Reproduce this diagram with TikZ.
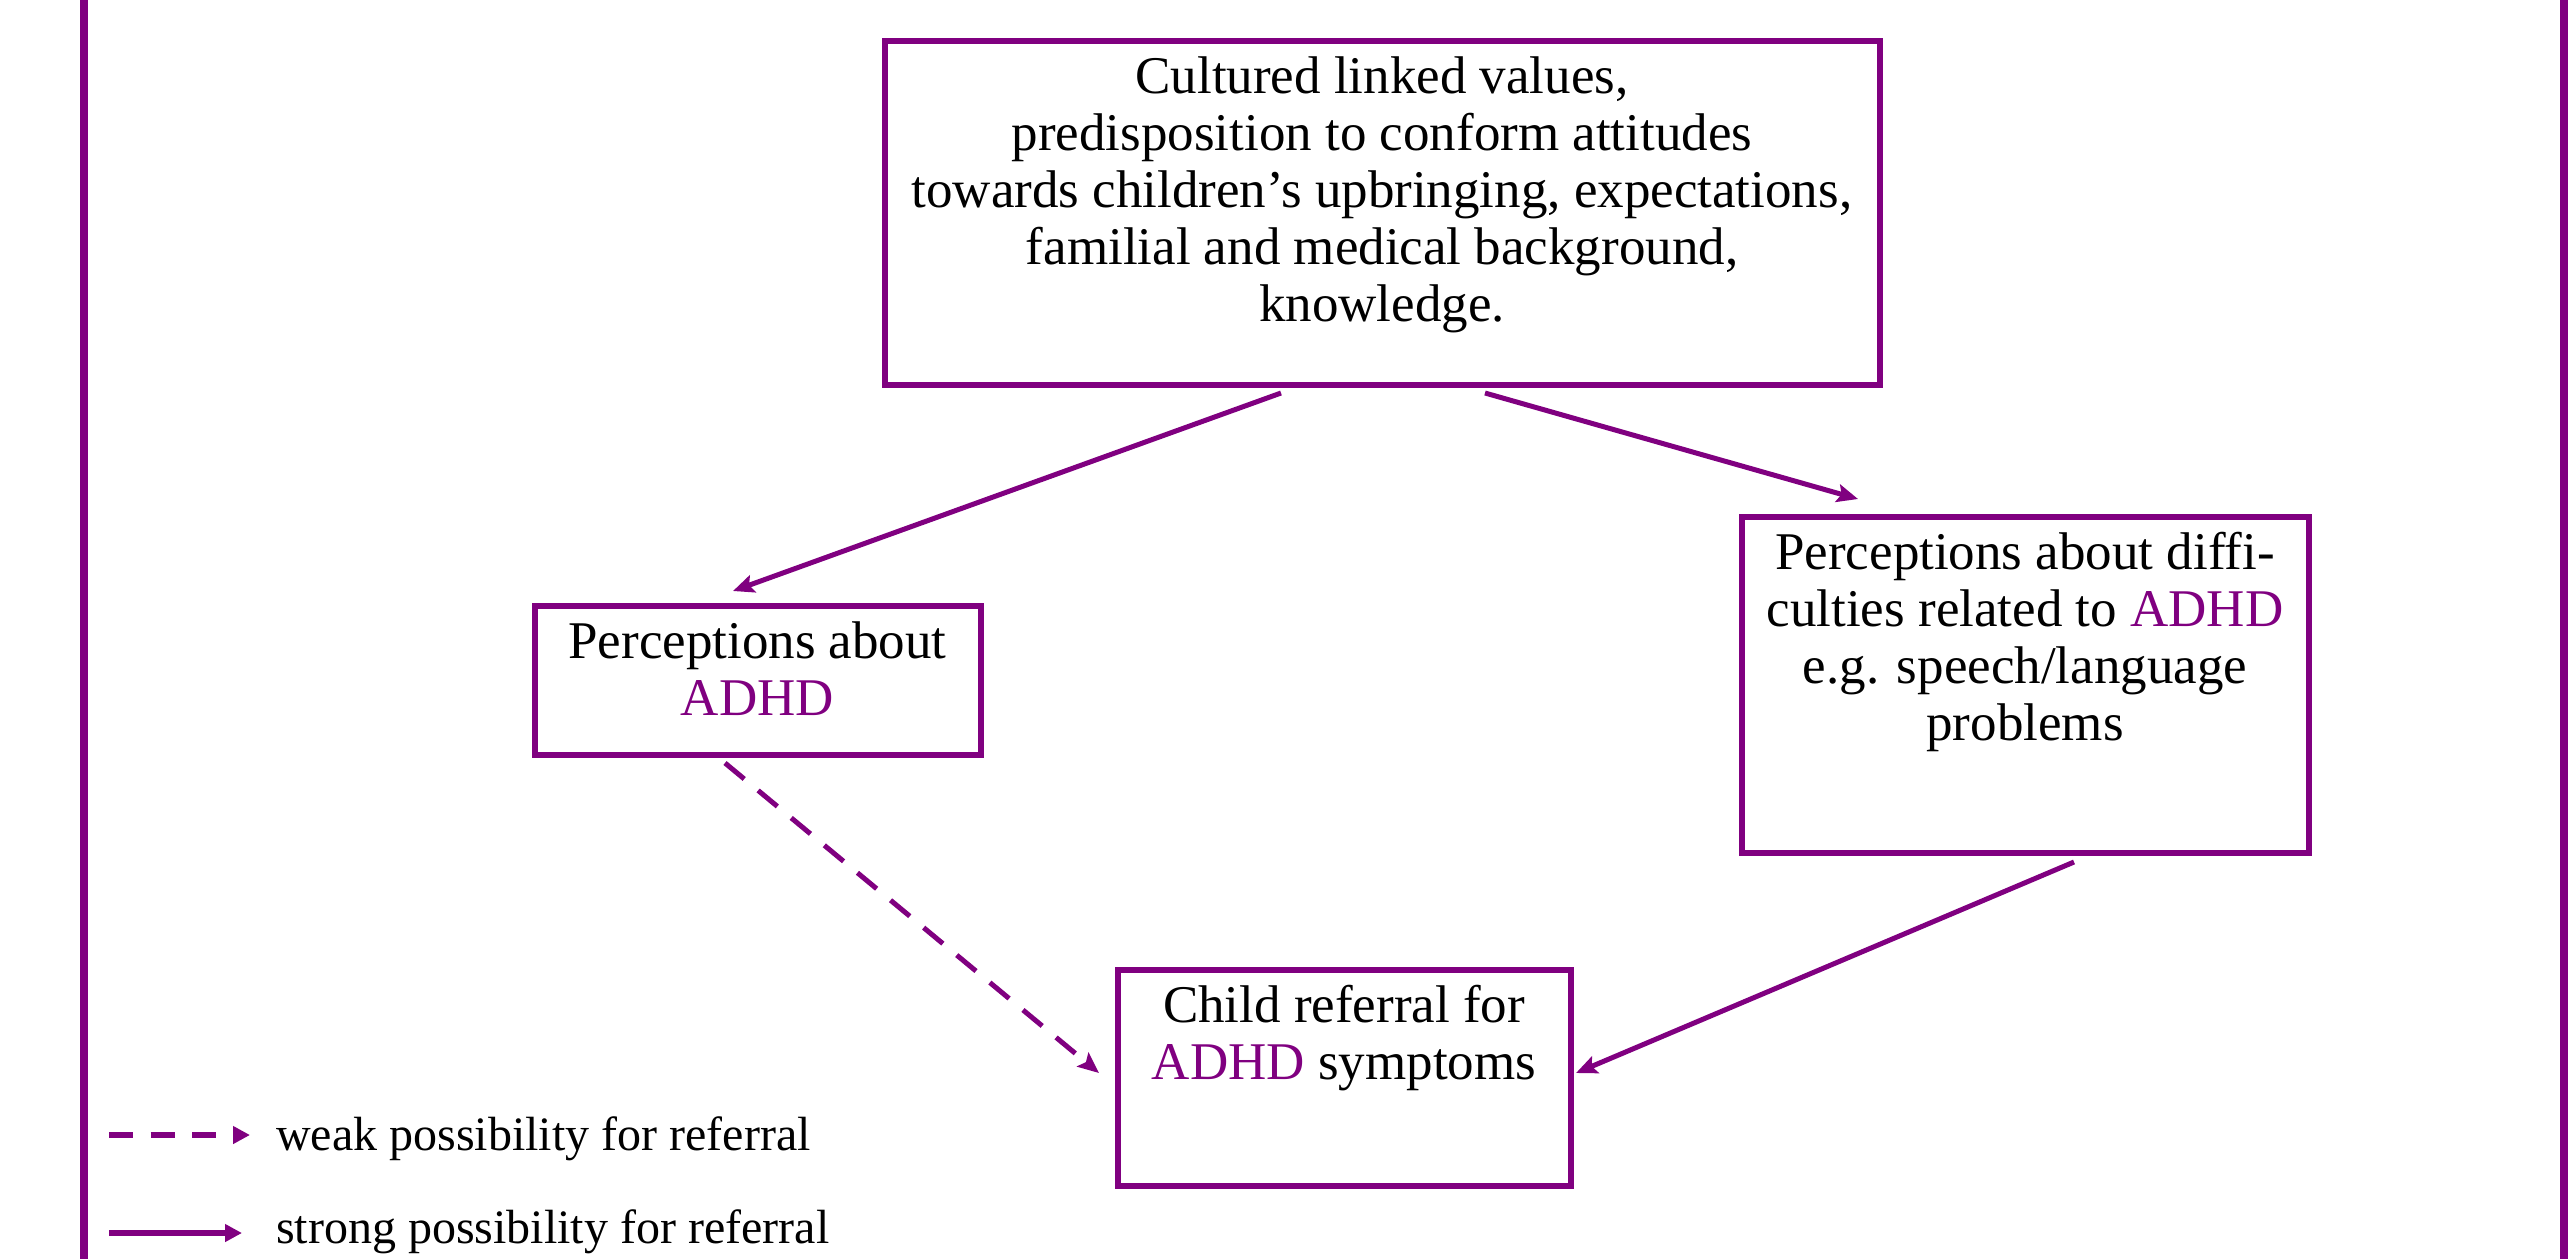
\documentclass[tikz,border=0pt]{standalone}
\usepackage{fontspec}
\setmainfont{Liberation Serif}
\usetikzlibrary{arrows.meta,calc}
\definecolor{pur}{RGB}{128,0,128}
\tikzset{
  box/.style={draw=pur, line width=6pt, inner sep=0pt, outer sep=0pt},
  conn/.style={draw=pur, line width=5pt, -{Stealth[length=21pt,width=18pt,inset=4pt]}},
  weakconn/.style={conn, dash pattern=on 25pt off 18pt},
  legline/.style={draw=pur, line width=6pt, -{Triangle[length=17pt,width=17pt]}},
  legdash/.style={legline, dash pattern=on 24pt off 17.5pt},
  legtext/.style={inner sep=0pt, anchor=base west, font=\fontsize{48}{55}\selectfont},
  framestyle/.style={draw=pur, line width=7.5pt},
}
\newcommand{\boxtext}[3]{\parbox[c][#2][t]{#1}{\centering\fontsize{53}{57}\selectfont\rule{0pt}{53pt}#3\par}}
\newcommand{\adhd}{\textcolor{pur}{ADHD}}
\begin{document}
\begin{tikzpicture}[x=1pt,y=-1pt]
\useasboundingbox (0,0) rectangle (2575,1259);
% frame sides
\draw[framestyle] (84,0) -- (84,1259);
\draw[framestyle] (2564,0) -- (2564,1259);
% boxes
\node[box] (top) at (1382,212.5) {\boxtext{995pt}{344pt}{Cultured linked values,\\ predisposition to conform attitudes\\ towards children’s upbringing, expectations,\\ familial and medical background,\\ knowledge.}};
\node[box] (left) at (757.5,680) {\boxtext{446pt}{149pt}{Perceptions about\\ \adhd}};
\node[box] (right) at (2025,684.5) {\boxtext{567pt}{336pt}{Perceptions about diffi-\\ culties related to \adhd\\ e.g. speech/language\\ problems}};
\node[box] (bottom) at (1344,1077.5) {\boxtext{453pt}{216pt}{Child referral for\\ \adhd{} symptoms}};
% connectors
\draw[conn] ([shift={(396.5,8.5)}]top.south west) -- ([shift={(198.5,-14.5)}]left.north west);
\draw[conn] ([shift={(600.5,8.5)}]top.south west) -- ([shift={(116.5,-17.5)}]right.north west);
\draw[weakconn] ([shift={(190.5,8.5)}]left.south west) -- ([shift={(-18.5,-4.5)}]bottom.west);
\draw[conn] ([shift={(332.5,9.5)}]right.south west) -- ([shift={(5.5,-4.5)}]bottom.east);
% legend
\coordinate (wd0) at (109,1135);
\coordinate (wd1) at (250,1135);
\coordinate (sd0) at (109,1233);
\coordinate (sd1) at (242,1233);
\draw[legdash] (wd0) -- (wd1);
\draw[legline] (sd0) -- (sd1);
\node[legtext] (weak) at (276,1150) {weak possibility for referral};
\node[legtext] (strong) at (276,1243) {strong possibility for referral};
\end{tikzpicture}
\end{document}
